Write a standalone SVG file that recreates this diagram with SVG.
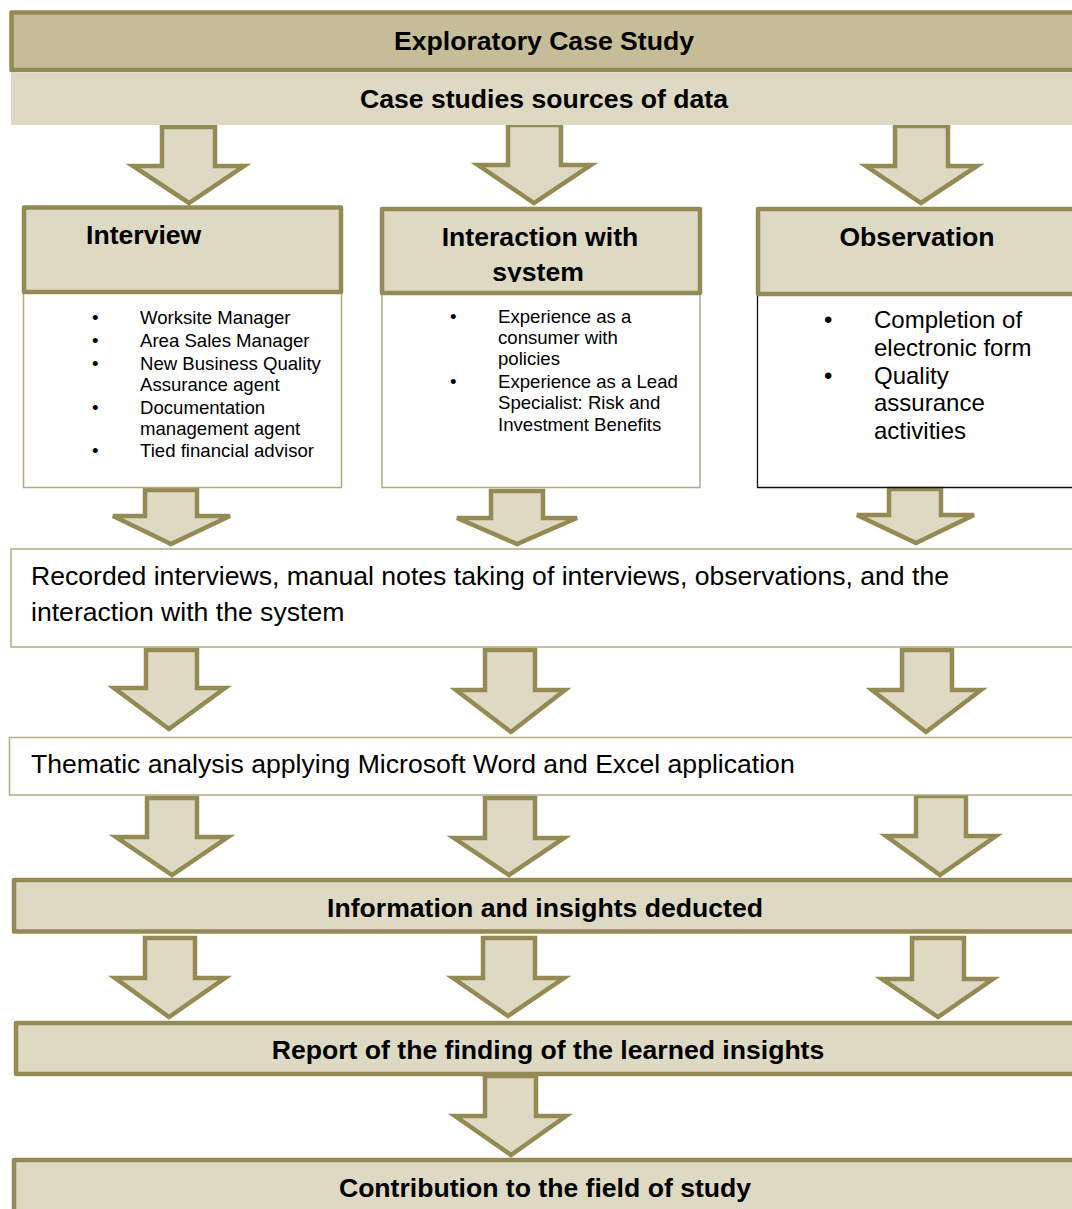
<svg xmlns="http://www.w3.org/2000/svg" width="1072" height="1209" viewBox="0 0 1072 1209">
  <defs>
    <style>
      .bg { fill: #ffffff; }
      .band-dark { fill: #C4BD97; stroke: #948A54; stroke-width: 4.5; stroke-linejoin: round; }
      .band { fill: #DDD9C3; stroke: #948A54; stroke-width: 4.5; stroke-linejoin: round; }
      .band-plain { fill: #DDD9C3; stroke: none; }
      .body { fill: #ffffff; stroke: #B3AB82; stroke-width: 1.5; }
      .body-dark { fill: none; stroke: #111111; stroke-width: 1.3; }
      .arrow { fill: #DDD9C3; stroke: #948A54; stroke-width: 4.5; stroke-linejoin: miter; }
      .h { font-family: "Liberation Sans", Arial, sans-serif; font-weight: bold; font-size: 26.6px; fill: #000000; }
      .t { font-family: "Liberation Sans", Arial, sans-serif; font-size: 26.6px; fill: #000000; }
      .li { font-family: "Liberation Sans", Arial, sans-serif; font-size: 18.6px; fill: #000000; }
      .lo { font-family: "Liberation Sans", Arial, sans-serif; font-size: 24px; fill: #000000; }
      .mid { text-anchor: middle; }
    </style>
    <clipPath id="clipInteraction">
      <rect x="382" y="209" width="318" height="73"/>
    </clipPath>
  </defs>

  <rect class="bg" x="0" y="0" width="1072" height="1209"/>

  <!-- block arrows between the stages -->
  <g id="connectors">
    <!-- sources -> three methods -->
    <polygon class="arrow" points="162,127 215,127 215,166 244,166 189,203 133,166 162,166"/>
    <polygon class="arrow" points="508,125 561,125 561,165 591,165 534,203 478,165 508,165"/>
    <polygon class="arrow" points="895,126 948,126 948,166 977,166 921,203 866,166 895,166"/>
    <!-- methods -> recorded data -->
    <polygon class="arrow" points="145,490 197,490 197,516 230,516 171,544 113,516 145,516"/>
    <polygon class="arrow" points="491,491 543,491 543,518 577,518 517,544 457,518 491,518"/>
    <polygon class="arrow" points="889,489 941,489 941,515 974,515 916,543 857,515 889,515"/>
    <!-- recorded data -> thematic analysis -->
    <polygon class="arrow" points="146,650 197,650 197,688 225,688 169,729 114,688 146,688"/>
    <polygon class="arrow" points="485,650 535,650 535,690 565,690 511,732 456,690 485,690"/>
    <polygon class="arrow" points="902,650 952,650 952,690 981,690 926,732 872,690 902,690"/>
    <!-- thematic analysis -> information -->
    <polygon class="arrow" points="147,798 197,798 197,837 228,837 172,875 116,837 147,837"/>
    <polygon class="arrow" points="485,798 535,798 535,838 564,838 509,875 454,838 485,838"/>
    <polygon class="arrow" points="916,796 966,796 966,836 996,836 940,875 886,836 916,836"/>
    <!-- information -> report -->
    <polygon class="arrow" points="145,938 195,938 195,978 225,978 169,1017 115,978 145,978"/>
    <polygon class="arrow" points="483,938 535,938 535,978 564,978 508,1016 453,978 483,978"/>
    <polygon class="arrow" points="912,938 964,938 964,979 993,979 938,1017 882,979 912,979"/>
    <!-- report -> contribution -->
    <polygon class="arrow" points="485,1076 536,1076 536,1116 566,1116 511,1155 455,1116 485,1116"/>
  </g>

  <g id="exploratory-case-study">
    <rect class="band-dark" x="11.5" y="12.5" width="1080" height="57.5"/>
    <text class="h mid" x="544" y="50">Exploratory Case Study</text>
  </g>

  <g id="sources">
    <rect class="band-plain" x="11" y="72.5" width="1070" height="52.5"/>
    <text class="h mid" x="544" y="108">Case studies sources of data</text>
  </g>

  <g id="interview">
    <rect class="body" x="23.5" y="293" width="318" height="194.5"/>
    <rect class="band" x="24" y="207.5" width="317" height="84.5"/>
    <text class="h" x="86" y="244">Interview</text>
    <g class="li">
      <text x="92" y="324">•</text><text x="140" y="324">Worksite Manager</text>
      <text x="92" y="347">•</text><text x="140" y="347">Area Sales Manager</text>
      <text x="92" y="370">•</text><text x="140" y="370">New Business Quality</text>
      <text x="140" y="391">Assurance agent</text>
      <text x="92" y="414">•</text><text x="140" y="414">Documentation</text>
      <text x="140" y="435">management agent</text>
      <text x="92" y="457">•</text><text x="140" y="457">Tied financial advisor</text>
    </g>
  </g>

  <g id="interaction">
    <rect class="body" x="382" y="293" width="318" height="194.5"/>
    <rect class="band" x="382" y="209" width="318" height="84"/>
    <g clip-path="url(#clipInteraction)">
      <text class="h mid" x="540" y="246">Interaction with</text>
      <text class="h mid" x="538" y="281">system</text>
    </g>
    <g class="li">
      <text x="450" y="323">•</text><text x="498" y="323">Experience as a</text>
      <text x="498" y="344">consumer with</text>
      <text x="498" y="365">policies</text>
      <text x="450" y="388">•</text><text x="498" y="388">Experience as a Lead</text>
      <text x="498" y="409">Specialist: Risk and</text>
      <text x="498" y="431">Investment Benefits</text>
    </g>
  </g>

  <g id="observation">
    <path class="body-dark" d="M757.5,294 V487.5 H1080"/>
    <rect class="band" x="758" y="209" width="330" height="85"/>
    <text class="h mid" x="917" y="246">Observation</text>
    <g class="lo">
      <text x="824" y="328">•</text><text x="874" y="328">Completion of</text>
      <text x="874" y="356">electronic form</text>
      <text x="824" y="384">•</text><text x="874" y="384">Quality</text>
      <text x="874" y="411">assurance</text>
      <text x="874" y="439">activities</text>
    </g>
  </g>

  <g id="recorded-data">
    <rect class="body" x="11" y="549" width="1080" height="98"/>
    <text class="t" x="31" y="585">Recorded interviews, manual notes taking of interviews, observations, and the</text>
    <text class="t" x="31" y="621">interaction with the system</text>
  </g>

  <g id="thematic-analysis">
    <rect class="body" x="9.5" y="737.5" width="1080" height="57.5"/>
    <text class="t" x="31" y="773">Thematic analysis applying Microsoft Word and Excel application</text>
  </g>

  <g id="information">
    <rect class="band" x="14" y="880" width="1080" height="51.5"/>
    <text class="h mid" x="545" y="917">Information and insights deducted</text>
  </g>

  <g id="report">
    <rect class="band" x="16" y="1023" width="1080" height="51"/>
    <text class="h mid" x="548" y="1059">Report of the finding of the learned insights</text>
  </g>

  <g id="contribution">
    <rect class="band" x="14" y="1160" width="1080" height="70"/>
    <text class="h mid" x="545" y="1197">Contribution to the field of study</text>
  </g>
</svg>
